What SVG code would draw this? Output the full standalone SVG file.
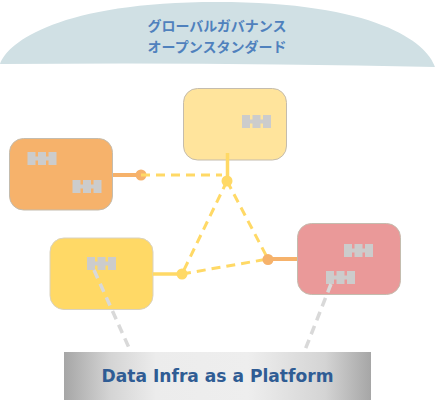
<svg xmlns="http://www.w3.org/2000/svg" width="435" height="400" viewBox="0 0 435 400">
<style>
.box{stroke:#c4bcae;stroke-width:1}
.dash{fill:none;stroke:#ffd966;stroke-width:3;stroke-dasharray:9 6}
.gdash{fill:none;stroke:#d9d9d9;stroke-width:3.5;stroke-dasharray:9 6}
.jp{font-family:"Noto Sans CJK JP","Noto Sans",sans-serif;font-size:14px;font-weight:700;fill:#4f81bd;text-anchor:middle}
.title{font-family:"DejaVu Sans",sans-serif;font-size:17.1px;font-weight:700;fill:#2f5c94;text-anchor:middle}
</style>
<defs>
<linearGradient id="plat" x1="0" x2="1" y1="0" y2="0">
<stop offset="0" stop-color="#a6a6a6"/>
<stop offset="0.15" stop-color="#d4d4d4"/>
<stop offset="0.3" stop-color="#ececec"/>
<stop offset="0.6" stop-color="#eeeeee"/>
<stop offset="0.85" stop-color="#d4d4d4"/>
<stop offset="1" stop-color="#a6a6a6"/>
</linearGradient>
<g id="peg">
<rect x="0" y="0" width="8" height="13" fill="#cccccc"/>
<rect x="10.5" y="0" width="8" height="13" fill="#cccccc"/>
<rect x="21" y="0" width="8" height="13" fill="#cccccc"/>
<rect x="7" y="4.5" width="15" height="4" fill="#cccccc"/>
</g>
</defs>
<g id="dome">
<path d="M0 64C8 42 60 2 217 2C375 2 427 42 435 67Q217 62 0 64Z" fill="#d0e0e4"/>
<text class="jp" x="217" y="31">グローバルガバナンス</text>
<text class="jp" x="217" y="51.500">オープンスタンダード</text>
</g>
<g id="node-top">
<rect class="box" x="183.500" y="88.500" width="103" height="71.500" rx="14" fill="#ffe49c"/>
<use href="#peg" x="242" y="115"/>
</g>
<g id="node-orange">
<rect class="box" x="9.500" y="138.500" width="103" height="71.500" rx="14" fill="#f6b26b"/>
<use href="#peg" x="27.500" y="152"/>
<use href="#peg" x="72.500" y="180"/>
</g>
<g id="node-yellow">
<rect x="50" y="238" width="103" height="71.500" rx="14" fill="#ffd966" stroke="#d9d2c0" stroke-width="1"/>
<use href="#peg" x="87" y="257"/>
</g>
<g id="node-red">
<rect class="box" x="297.500" y="223.500" width="103" height="71" rx="14" fill="#ea9999"/>
<use href="#peg" x="344" y="244"/>
<use href="#peg" x="326" y="271"/>
</g>
<g id="node-platform">
<rect x="64" y="352" width="307" height="48" fill="url(#plat)"/>
<text class="title" x="217.500" y="382">Data Infra as a Platform</text>
</g>
<g id="connectors">
<line x1="113" y1="175" x2="141" y2="175" stroke="#f6b26b" stroke-width="4"/>
<circle cx="141" cy="175" r="5.500" fill="#f6b26b"/>
<line x1="141" y1="175" x2="222" y2="175" class="dash"/>
<line x1="227.500" y1="153" x2="227.500" y2="181" stroke="#ffd966" stroke-width="3.500"/>
<circle cx="227" cy="181" r="5.500" fill="#ffd966"/>
<line x1="227" y1="181" x2="182" y2="274" class="dash"/>
<line x1="227" y1="181" x2="268" y2="259" class="dash"/>
<line x1="153" y1="274" x2="182" y2="274" stroke="#ffd966" stroke-width="3.500"/>
<circle cx="182" cy="274" r="5.500" fill="#ffd966"/>
<line x1="182" y1="274" x2="268" y2="259" class="dash"/>
<line x1="268" y1="259" x2="297" y2="259" stroke="#f6b26b" stroke-width="4"/>
<circle cx="268" cy="259.500" r="5.500" fill="#f6b26b"/>
<line x1="94" y1="270" x2="130" y2="350" class="gdash"/>
<line x1="331" y1="284" x2="305" y2="350" class="gdash"/>
</g>
</svg>
